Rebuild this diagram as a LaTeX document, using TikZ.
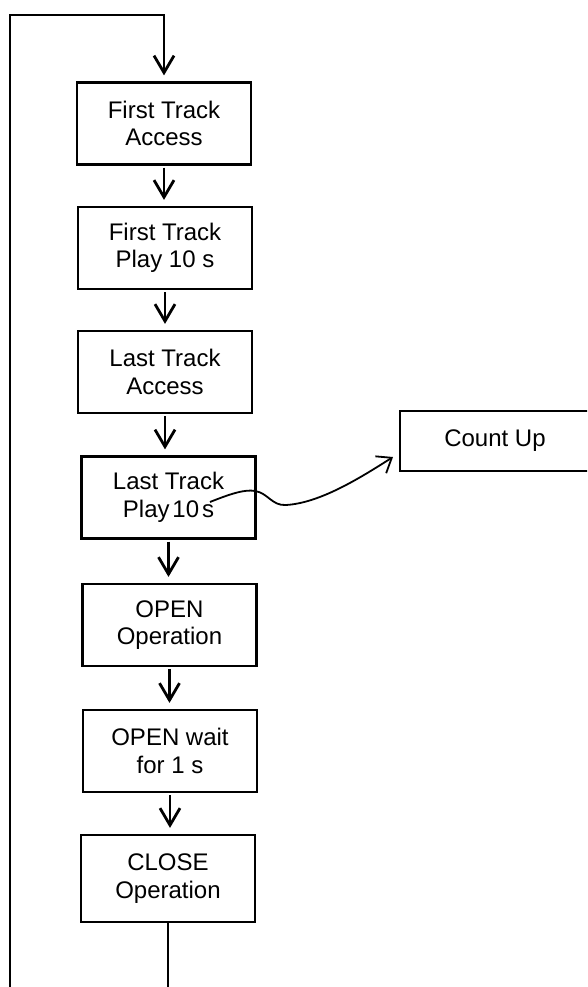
\documentclass[tikz,border=0pt]{standalone}
\usepackage{fontspec}
\setmainfont{Liberation Sans}
\usetikzlibrary{arrows.meta}
\begin{document}
\begin{tikzpicture}[x=1pt,y=-1pt,
  box/.style={draw, line width=2.2pt, minimum width=174pt, minimum height=82pt, align=center,
    font=\fontsize{24}{27.5}\selectfont, inner sep=0pt},
  flow/.style={line width=2.8pt, -{Straight Barb[length=17pt,width=20pt]}, shorten >=6pt, shorten <=2pt},
  loopline/.style={line width=2.8pt},
  curvy/.style={line width=1.8pt, -{Straight Barb[length=13pt,width=20pt]}},
]
\useasboundingbox (0,0) rectangle (587,987);
\clip (0,0) rectangle (587,987);

\node[box] (a) at (164,123.5) {First Track\\Access};
\node[box] (b) at (165,248) {First Track\\Play 10 s};
\node[box] (c) at (165,372) {Last Track\\Access};
\node[box] (d) at (168.5,497.5) {Last Track\\{\spaceskip=0.12em Play 10 s}};
\node[box] (e) at (169.5,625) {OPEN\\Operation};
\node[box] (f) at (170,751) {OPEN wait\\for 1 s};
\node[box, minimum height=87pt] (g) at (168,878.5) {CLOSE\\Operation};
\node[box, minimum width=190pt, minimum height=60pt] (cu) at (495,441) {Count Up};

\draw[flow] (a.south) -- (a.south |- b.north);
\draw[flow] (b.south) -- (b.south |- c.north);
\draw[flow] (c.south) -- (c.south |- d.north);
\draw[flow] (d.south) -- (d.south |- e.north);
\draw[flow] (e.south) -- (e.south |- f.north);
\draw[flow] (f.south) -- (f.south |- g.north);

\coordinate (lb) at (10,990);
\coordinate (lt) at (10,15);
\coordinate (gb) at (168,990);
\draw[loopline] (g.south) -- (gb);
\draw[flow, shorten <=0pt] (lb) -- (lt) -| (a.north);

\coordinate (cs) at (210,502);
\coordinate (ce) at (393,457);
\draw[curvy] (cs) .. controls (230,494) and (245,489) .. (255,491)
  .. controls (268,493) and (272,506) .. (286,505)
  .. controls (320,503) and (360,478) .. (ce);
\end{tikzpicture}
\end{document}
